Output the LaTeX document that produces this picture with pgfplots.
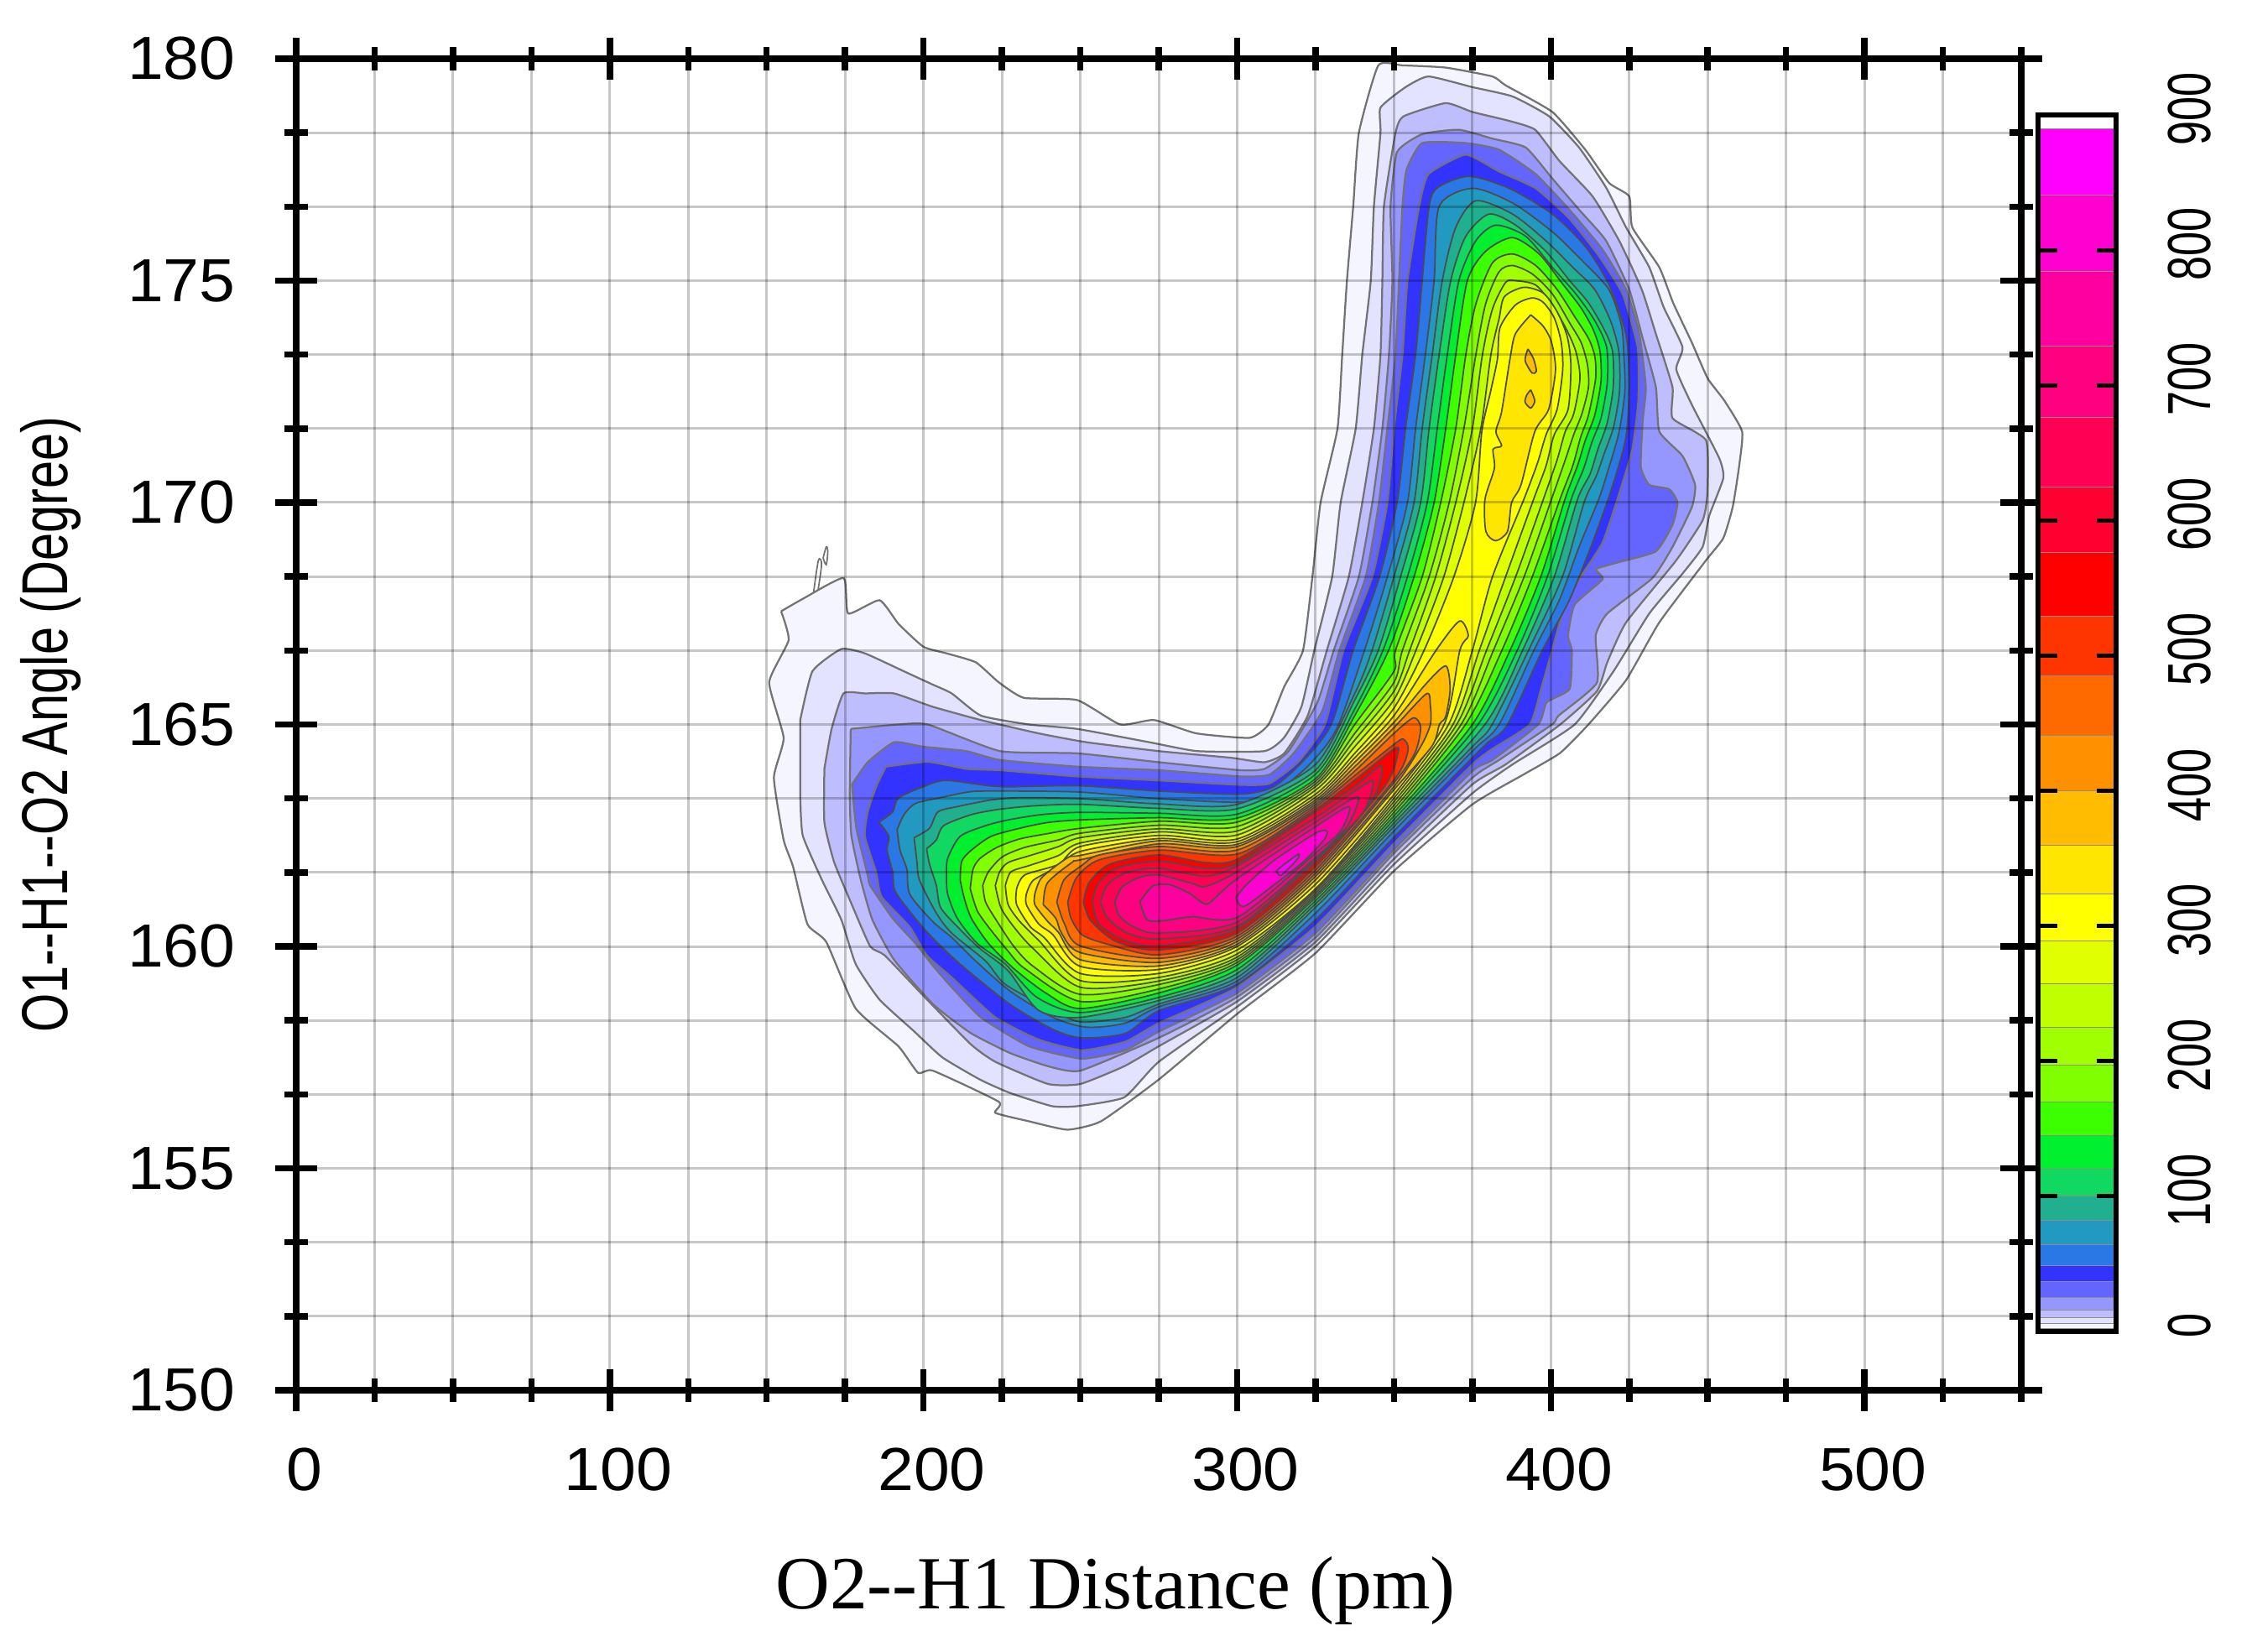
\documentclass[border=0pt]{standalone}
\usepackage{fontspec}
\setmainfont{Liberation Serif}
\newfontfamily\hel{Liberation Sans}
\usepackage{pgfplots}
\pgfplotsset{compat=1.18}
\definecolor{c1}{HTML}{F5F5FF}\definecolor{c2}{HTML}{E3E3FF}\definecolor{c3}{HTML}{BEBEFF}
\definecolor{c4}{HTML}{9696FF}\definecolor{c5}{HTML}{6464FF}\definecolor{c6}{HTML}{3333FF}
\definecolor{c7}{HTML}{2A78E6}\definecolor{c8}{HTML}{2299C0}\definecolor{c9}{HTML}{20B090}
\definecolor{c10}{HTML}{10D860}\definecolor{c11}{HTML}{00F030}\definecolor{c12}{HTML}{3CFF00}
\definecolor{c13}{HTML}{80FF00}\definecolor{c14}{HTML}{A0FF00}\definecolor{c15}{HTML}{C0FF00}
\definecolor{c16}{HTML}{E0FF00}\definecolor{c17}{HTML}{FFFF00}\definecolor{c18}{HTML}{FFE600}
\definecolor{c19}{HTML}{FFBC00}\definecolor{c20}{HTML}{FF9000}\definecolor{c21}{HTML}{FF6A00}
\definecolor{c22}{HTML}{FF3500}\definecolor{c23}{HTML}{FF0000}\definecolor{c24}{HTML}{FF0030}
\definecolor{c25}{HTML}{FF0055}\definecolor{c26}{HTML}{FF0080}\definecolor{c27}{HTML}{FF00A0}
\definecolor{c28}{HTML}{FF00D0}\definecolor{c29}{HTML}{FF00FF}
\pgfplotsset{
  pale/.style={fill=#1,draw=black!55,line width=.45pt,smooth,tension=.3},
  lev/.style={fill=#1,draw=black!70,line width=.35pt,smooth,tension=.45},
}
\newcommand{\band}[3]{\addplot[fill=#3,draw=black!45,line width=.2pt] coordinates {(0,#1)(1,#1)(1,#2)(0,#2)};}
\begin{document}
\begin{tikzpicture}
\path[use as bounding box] (-70.6pt,-62.2pt) rectangle (466.2pt,331.4pt);
\begin{axis}[
    at={(0pt,0pt)},anchor=south west,scale only axis,
    width=411.2pt,height=317.4pt,
    xmin=0,xmax=550,ymin=150,ymax=180,
    xtick={0,100,200,300,400,500},
    minor xtick={25,50,75,125,150,175,225,250,275,325,350,375,425,450,475,525,550},
    ytick={150,155,160,165,170,175,180},
    minor ytick={151.667,153.333,156.667,158.333,161.667,163.333,166.667,168.333,171.667,173.333,176.667,178.333},
    grid=both,
    grid style={draw=black,opacity=.22,line width=.6pt},
    minor grid style={draw=black,opacity=.22,line width=.6pt},
    axis on top,
    axis line style={line width=1.5pt},
    tick align=center,
    major tick length=10pt,minor tick length=5.5pt,
    major tick style={black,line width=1.5pt},
    minor tick style={black,line width=1.5pt},
    /pgf/number format/assume math mode=true,
    tick label style={font=\hel\fontsize{14.5}{16}\selectfont},
    xticklabel={\scalebox{1.06}[1]{\pgfmathprintnumber{\tick}}},
    yticklabel={\scalebox{1.06}[1]{\pgfmathprintnumber{\tick}}},
    xticklabel style={yshift=-5.3pt,xshift=2pt},
    yticklabel style={xshift=-6pt},
    xlabel={O2{-}{-}H1 Distance (pm)},
    xlabel style={font=\fontsize{17.9}{20}\selectfont,at={(axis description cs:0.475,0)},anchor=base,yshift=-52pt},
    ylabel={\scalebox{.768}[1]{O1{-}{-}H1{-}{-}O2 Angle (Degree)}},
    ylabel style={font=\hel\fontsize{15.5}{18}\selectfont,at={(axis description cs:0,0.5)},anchor=center,yshift=58.6pt},
]
% contour levels, outermost first
\addplot[fill=white,draw=black!55,line width=.35pt,smooth] coordinates {(165,168)(166.5,168.7)(167.5,168.6)(166,167.9)(165,168)};
\addplot[fill=white,draw=black!55,line width=.35pt,smooth] coordinates {(168,168.75)(169,169)(169.5,168.9)(169,168.6)(168,168.75)};
\addplot[pale=c1] coordinates {
 (154.6,167.55)(161.5,167.83)(174.5,168.3)(176,167.5)(186,167.8)(192,167.27)(200,166.75)(207.5,166.6)(216.7,166.4)(224,165.95)(232,165.6)(249,165.55)(262.7,165)(273.5,165.1)(287,164.8)(304,164.7)(310,165)(315,165.85)(321,166.67)(324,168.33)(326.6,170)(332,171.67)(333.5,173.33)(335,175)(337,176.67)(338.8,178.33)(345,179.85)(352.7,179.85)(366.5,179.8)(381.4,179.6)(385.6,179.4)(400.5,178.8)(411,177.95)(418.6,177.2)(425,176.9)(426,176.2)(434.6,175.3)(439,174.5)(445,173.6)(450,172.8)(455.3,172.3)(461,171.6)(460,170.8)(458,169.9)(455,169.2)(449.5,168.7)(434.6,167.3)(424,166)(412,165)(403,164.36)(392,163.9)(375,163.2)(350,161.7)(325,159.85)(300,158.48)(275,157)(256.6,156.06)(245.9,155.87)(233.6,156.06)(222.9,156.25)(224,156.5)(203,157.2)(198.3,157.15)(192,157.75)(178.4,158.6)(169,160.1)(163,160.5)(158.4,161.8)(155.4,162.4)(152.3,163.8)(155.4,164.7)(150.8,165.95)(157,166.9)(154.6,167.55)};
\addplot[pale=c2] coordinates {
 (160.7,165.1)(164.6,166.2)(173.8,166.7)(181.4,166.6)(193.7,166.2)(202.9,165.9)(209,165.7)(218.3,165.2)(233.6,165)(249,164.9)(272,164.6)(287.3,164.4)(308.7,164.4)(314.9,164.7)(320.5,165.4)(324.6,166.67)(330.3,168.33)(333,170)(337.8,171.67)(339.9,173.33)(342.6,175)(343.6,176.67)(345.7,178.33)(345.7,178.9)(353.7,179.36)(361,179.6)(375,179.36)(387.8,179.15)(399.5,178.7)(409,178)(417.6,177.1)(424,176.2)(431.4,175.3)(436,174.4)(442,173.5)(440,173)(445,172.2)(453.7,171)(455,170.55)(450.5,169.7)(448.4,169)(442,168.4)(431.4,167.5)(420,166.2)(407.6,165)(387.8,164.1)(375,163.45)(350,161.85)(325,160)(300,158.64)(275,157.4)(264,156.6)(249,156.4)(241,156.4)(227.5,156.7)(218,157)(206,157.5)(196.8,158.1)(186,158.8)(178.4,159.6)(173.8,160.6)(167.6,161.5)(161.5,162.5)(160.7,163.4)(160.7,164.3)(160.7,165.1)};
\addplot[pale=c3] coordinates {
 (168.4,164)(170.7,164.9)(174.5,165.7)(181.4,165.7)(190.6,165.7)(202.9,165.4)(218.3,165.1)(236.7,164.8)(252,164.6)(275,164.4)(298,164.25)(308.7,164.15)(315,164.35)(322.5,165.2)(328.6,166.67)(335.6,168.33)(339.9,170)(343.6,171.67)(345.7,173.33)(346.3,175)(346.8,176.67)(350.5,178.33)(353,178.7)(366.5,179)(375,178.8)(386.7,178.6)(395,178.4)(402.7,177.7)(413.3,176.9)(421.8,175.9)(429,174.8)(433.5,173.8)(438.8,172.6)(438.8,171.9)(449.5,171.4)(449.9,170.2)(448.4,169.6)(440,168.7)(424,167.3)(418,166.4)(414.7,165.75)(403,165)(385.6,164.1)(375,163.65)(350,161.97)(325,160.1)(300,158.76)(275,157.75)(264,157.3)(250,156.9)(239.7,156.9)(222.9,157.4)(215,157.8)(199.8,158.9)(187.6,159.8)(183,160)(176.8,161)(171.5,161.9)(168.4,162.8)(168.4,164)};
\addplot[pale=c4] coordinates {
 (176.8,164.9)(192,165)(201.4,165)(224.4,164.4)(249,164.35)(275,164.15)(301,163.97)(308.7,164)(316.4,164.4)(325.6,165.5)(330.8,166.67)(338.8,168.33)(343.1,170)(346.3,171.67)(348.4,173.33)(349.5,175)(348.9,176.67)(351,177.9)(359,178.3)(370.7,178.4)(381.4,178.2)(392,178)(400.5,177.3)(409,176.6)(417.6,175.9)(425,174.8)(429.3,173.7)(433.5,172.6)(434.6,171.6)(442,171.05)(446,170.4)(445,169.9)(438.8,169)(432.4,168.3)(418,167.5)(414.3,167)(414.7,165.94)(402.5,165.2)(400.4,165)(383.5,164.2)(375,163.8)(350,162.1)(325,160.2)(300,158.86)(275,157.94)(250,157.2)(239.7,157.3)(227.5,157.6)(215,158.05)(203,158.7)(190.6,159.7)(183.7,160.6)(180,161.5)(177,162.5)(176.5,163.4)(176.8,164.9)};
\addplot[pale=c5] coordinates {
 (177.2,163.65)(182.2,164.15)(190.6,164.6)(199.8,164.5)(213.7,164.4)(224.4,164.2)(249,164.05)(275,163.97)(301,163.83)(310.3,163.87)(318,164.35)(327.1,165.3)(332.6,166.67)(341,168.33)(345.2,170)(347.9,171.67)(350.5,173.33)(351.6,175)(352.7,176.67)(354,177.5)(359,178.1)(372.9,178.1)(383.5,177.95)(395.2,177.4)(405.9,176.6)(416.5,175.7)(424,174.8)(428.2,173.8)(430.3,172.6)(429.3,171.85)(428.7,170.8)(431.4,170.4)(437.8,170.3)(440.4,170)(438.8,169.5)(433.5,168.9)(421.3,168.65)(414.4,168.5)(416.5,168.27)(407.6,167.7)(405.5,167)(406.7,166.67)(406,165.8)(398.7,165.5)(396,165)(381.4,164.2)(375,163.95)(350,162.18)(325,160.3)(300,158.95)(275,158.08)(264.3,157.66)(250.5,157.47)(233.6,157.75)(218.3,158.4)(209,159.08)(202.8,159.58)(197.4,160.07)(190.2,160.63)(183,161.37)(182.2,161.61)(178.6,162.66)(177.2,163.65)};
\addplot[pale=c6] coordinates {
 (188,164.05)(201.4,164.16)(213.7,164)(224.4,163.97)(249,163.83)(275,163.74)(301,163.64)(310.3,163.67)(319.5,164.16)(328,165)(333.9,166.67)(343.1,168.33)(347.9,170)(350,171.67)(352.7,173.33)(354.3,175)(358,176.67)(361,177.4)(372.9,177.84)(383.5,177.46)(395.2,177.08)(405.9,176.4)(415.4,175.55)(422.9,174.7)(427.7,173.5)(427.9,172.3)(426,171.2)(421.8,170.2)(416.5,169.1)(409,168.27)(404.5,167.7)(400.4,166.67)(396.9,165.8)(393.3,165)(381.4,164.45)(375,164.1)(350,162.32)(325,160.45)(300,159.08)(275,158.27)(264.3,157.85)(250.5,157.66)(236.7,157.9)(222.9,158.4)(209,159.3)(201,159.8)(195.6,160.44)(186.6,161.12)(184.9,161.67)(181.3,162.48)(182.2,163.03)(184.9,163.6)(188,164.05)};
\addplot[lev=c7] coordinates {
 (185.8,162.8)(190.2,163.03)(192,163.34)(200,163.6)(207.3,163.74)(224.4,163.6)(249,163.62)(275,163.5)(301,163.43)(311.6,163.6)(320.8,164.16)(330,165)(337,166.67)(345.4,168.33)(351,170)(353.7,171.67)(356.9,173.33)(359,175)(361.2,176.67)(364,177.1)(373.9,177.35)(386.7,177.08)(400.5,176.5)(411,175.77)(418.6,174.9)(423.9,173.8)(425,172.7)(424,171.5)(419.8,170.4)(413.3,169.1)(405.9,167.8)(397.3,166.67)(386.2,165)(380,164.6)(375,164.25)(350,162.46)(325,160.6)(300,159.15)(275,158.55)(264.3,158.04)(250.5,157.94)(241.3,158.13)(227.5,158.7)(211.7,159.6)(202.8,160.2)(197.4,160.63)(191,161.24)(190.2,161.67)(188.4,162.17)(189,162.48)(185.8,162.8)};
\addplot[lev=c8] coordinates {
 (191.6,162.63)(193.8,162.97)(197.4,163.22)(204.6,163.34)(213.5,163.47)(220,163.5)(249,163.48)(275,163.33)(301,163.25)(311.6,163.45)(322.5,164.06)(331.7,164.9)(340.6,166.67)(347.9,168.33)(354.3,170)(356.9,171.67)(360,173.33)(362.8,175)(364.4,176.67)(375,177.08)(387.8,176.75)(400.5,176.1)(410,175.45)(418.5,174.8)(422.5,174)(423.3,173.3)(423.6,172.5)(421.8,171.6)(419,170.9)(415.4,170.1)(409,169)(402.7,167.8)(394.6,166.67)(383.5,165)(375,164.4)(350,162.6)(325,160.75)(300,159.22)(275,158.64)(264.3,158.27)(252,158.18)(241.3,158.4)(227.5,159)(216.2,159.7)(209,160.2)(202.8,160.57)(195.6,161.18)(194.7,161.74)(192.5,162.17)(191.6,162.63)};
\addplot[lev=c9] coordinates {
 (197,162.45)(201.9,162.66)(204.6,163.03)(210.8,163.15)(221.6,163.3)(230.6,163.35)(250,163.33)(275,163.21)(300,163.2)(325,164.1)(337.5,165.7)(343,166.67)(350,168.33)(356.4,170)(359,171.67)(362.2,173.33)(365.4,175)(369.7,176.2)(376.1,176.8)(387.8,176.5)(398.4,175.9)(407,175.3)(414,174.8)(419,174.1)(421.7,173.4)(421.9,172.5)(420,171.7)(417,171.1)(414.5,170.6)(410.6,170)(403.7,168.33)(392.9,166.67)(381.3,165)(375,164.5)(350,162.7)(325,160.88)(300,159.3)(275,158.7)(264.3,158.4)(250,158.3)(240,158.6)(226,159.15)(219.8,159.67)(209,160.3)(204.1,160.75)(198.7,161.5)(197.9,161.92)(197,162.45)};
\addplot[lev=c10] coordinates {
 (201,162.2)(204.1,162.4)(206.4,162.72)(215.3,162.97)(224.3,163.09)(235.9,163.17)(250,163.2)(275,163.11)(300,163.1)(325,163.97)(337.5,165.55)(345,166.67)(352.1,168.33)(358.5,170)(361.2,171.67)(364.4,173.33)(368.1,175)(372.9,176)(380.3,176.5)(388.8,176.25)(398.4,175.66)(406,175)(412,174.5)(417,173.9)(419.7,173.4)(419.9,172.6)(418,171.8)(415,171.2)(412.5,170.64)(408.5,170.07)(401.1,168.33)(391,166.67)(379,165)(350,162.78)(325,160.96)(300,159.39)(275,158.78)(250,158.4)(236.7,158.56)(227,159.45)(218,159.95)(211.7,160.38)(205.5,160.87)(204.1,161.37)(201.9,161.86)(201,162.2)};
\addplot[lev=c11] coordinates {
 (207.3,161.6)(207.7,161.98)(211.7,162.48)(219.8,162.72)(227,162.85)(237.7,162.97)(250,163.02)(275,163)(300,162.98)(325,163.88)(337.5,165.35)(346.5,166.67)(354.3,168.33)(360.6,170)(363.8,171.67)(367,173.33)(370.7,175)(376.1,175.9)(382.5,176.25)(392,176)(400.5,175.3)(408,174.7)(414,174.1)(417.8,173.5)(418,172.7)(416,171.9)(413,171.34)(410.5,170.77)(406.5,170.07)(398.9,168.33)(389.3,166.67)(376.8,165)(350,162.86)(325,161.03)(300,159.48)(275,158.85)(250,158.51)(236.2,158.85)(226.1,159.6)(217.1,160.07)(210.8,160.63)(207.7,161.18)(207.3,161.6)};
\addplot[lev=c12] coordinates {
 (211.7,161.49)(212.2,161.92)(215.3,162.17)(221.6,162.48)(230.6,162.66)(239.5,162.79)(250,162.85)(275,162.9)(300,162.89)(325,163.78)(337.5,165.2)(348.3,166.67)(356.4,168.33)(362.8,170)(366.5,171.67)(369.7,173.33)(373.4,175)(379.2,175.66)(387.8,175.97)(396.3,175.6)(403.5,174.95)(409.5,174.4)(413.5,173.9)(415.7,173.4)(416,172.73)(414,171.97)(411,171.4)(408.5,170.83)(404.5,170.07)(396.8,168.33)(387,166.67)(375,165)(350,162.94)(325,161.1)(300,159.58)(275,158.95)(250,158.6)(239,158.95)(228.8,159.5)(220.7,160.07)(215.3,160.63)(213.1,161.06)(211.7,161.49)};
\addplot[lev=c13] coordinates {
 (214.9,161.3)(215.8,161.74)(218,161.98)(223.4,162.23)(230.6,162.42)(239.5,162.54)(250,162.66)(275,162.82)(300,162.8)(325,163.72)(337.5,165)(350,166.2)(350.5,166.67)(359,168.33)(364.9,170)(369.7,171.67)(372.9,173.33)(376.1,174.47)(381.4,175.4)(387.8,175.6)(395.2,175.34)(402,174.8)(407.5,174.2)(412,173.7)(414,173.3)(414.3,172.8)(412,171.97)(409.5,171.47)(407,170.83)(402.9,170.07)(394.1,168.33)(384.4,166.67)(372.8,165)(350,163.02)(325,161.15)(300,159.64)(275,159.04)(250,158.76)(232.3,159.5)(227,159.89)(220.7,160.44)(217.1,160.81)(214.9,161.3)};
\addplot[lev=c14] coordinates {
 (218.9,161.37)(220.7,161.68)(225.2,162.02)(232.3,162.23)(243.1,162.4)(250,162.55)(275,162.73)(300,162.7)(325,163.66)(337.5,164.8)(350,165.95)(352.7,166.67)(361.2,168.33)(367.6,170)(372.3,171.67)(376.1,173.33)(379.2,174.47)(383.5,175.2)(387.8,175.34)(394.1,175.15)(400.5,174.7)(406,174.05)(409.7,173.6)(411.7,173.1)(412,172.6)(409.9,172)(407.3,171.53)(404.6,170.96)(400.2,170.07)(391.5,168.33)(381.7,166.67)(371.4,165)(350,163.1)(325,161.2)(300,159.7)(275,159.14)(250,158.92)(235,159.55)(228.8,160)(223.4,160.57)(219.8,161)(218.9,161.37)};
\addplot[lev=c15] coordinates {
 (222.9,161.37)(224.3,161.68)(227,161.89)(234.1,162.05)(243.1,162.25)(250,162.45)(275,162.65)(300,162.6)(325,163.6)(337.5,164.65)(350,165.75)(355,166.67)(363.3,168.33)(369.7,170)(375,171.67)(378.2,173.33)(381.4,174.36)(385.6,174.96)(388.8,175)(395.2,174.9)(400.5,174.45)(405,173.9)(408,173.4)(409.3,172.8)(407.3,172)(404.6,171.6)(402,170.96)(397.6,170.07)(388.8,168.33)(379.5,166.67)(370,165)(350,163.18)(325,161.25)(300,159.76)(275,159.22)(250,159.08)(235,159.95)(228.8,160.44)(224.7,160.87)(222.9,161.37)};
\addplot[lev=c16] coordinates {
 (226.1,161.37)(227.9,161.68)(234.1,161.83)(243.1,162.05)(250,162.33)(275,162.58)(300,162.51)(325,163.52)(337.5,164.5)(350,165.56)(357,166.67)(365.9,168.33)(372.3,170)(377.7,171.67)(380.9,173.33)(383.5,174.14)(385.2,174.64)(391.4,174.85)(397.6,174.72)(402,174.3)(405.2,173.75)(406.4,173.1)(405.5,172.1)(401.1,171.53)(398.5,170.83)(394.5,170.07)(385.6,168.33)(377.2,166.67)(368.8,165)(350,163.26)(325,161.28)(300,159.83)(275,159.3)(250,159.23)(236.8,160.13)(230.6,160.57)(227,160.94)(226.1,161.37)};
\addplot[lev=c17] coordinates {
 (229.7,161.3)(232.3,161.61)(243.1,161.85)(250,162.25)(275,162.5)(300,162.42)(325,163.43)(337.5,164.35)(350,165.37)(359.6,166.67)(369.1,168.33)(376,170)(378,171.6)(380.8,172.5)(383,173.24)(383.8,173.94)(388.7,174.45)(394,174.61)(397.6,174.51)(401.1,174.16)(403.3,173.62)(403.8,173)(402,172.1)(398.5,171.53)(395.8,170.9)(391.4,170.07)(381.4,168.33)(375,166.67)(367.4,165)(350,163.34)(325,161.3)(300,159.92)(275,159.39)(250,159.39)(238.6,160.19)(234.1,160.44)(229.7,160.94)(229.7,161.3)};
\addplot[lev=c18] coordinates {
 (393.6,174.23)(397.6,173.97)(400.2,173.62)(401.5,172.99)(399.3,172.1)(394.9,171.6)(390.5,170.4)(387.5,170)(386.2,169.35)(382.4,169.14)(379.3,169.35)(379,170.07)(382,170.77)(381.6,171.2)(384.3,171.28)(382.5,171.6)(384.3,172.04)(387,173.24)(388.7,173.8)(393.6,174.23)};
\addplot[lev=c19] coordinates {(392.7,173.46)(394.5,173.24)(395.4,172.96)(394,172.92)(391.8,173.2)(392.7,173.46)};
\addplot[lev=c19] coordinates {(393.6,172.54)(394.9,172.29)(393.6,172.13)(391.8,172.26)(392.3,172.42)(393.6,172.54)};
\addplot[lev=c18] coordinates {
 (232.8,161.18)(235,161.49)(243,161.8)(250,162.14)(275,162.43)(300,162.36)(325,163.36)(337.5,164.25)(350,165.2)(363.4,166.67)(370.9,167.33)(373.7,167)(371,166.67)(366,165)(350,163.42)(325,161.4)(300,160)(275,159.48)(250,159.55)(241.3,160.26)(236.8,160.5)(232.8,160.94)(232.8,161.18)};
\addplot[lev=c19] coordinates {
 (235.5,161.18)(237.7,161.55)(246,162)(250,162.05)(275,162.38)(300,162.3)(325,163.3)(337.5,164.15)(350,165.05)(360,165.9)(366.5,166.32)(367.9,165.8)(366.5,165.18)(364.5,165)(362,164.5)(350,163.53)(325,161.5)(300,160.05)(275,159.56)(250,159.7)(243,160.32)(239.5,160.57)(235.5,160.94)(235.5,161.18)};
\addplot[lev=c20] coordinates {
 (238.2,160.94)(239.5,161.43)(247.5,161.9)(250,161.95)(275,162.31)(300,162.25)(325,163.25)(337.5,164.05)(350,164.93)(360.3,165.69)(361.6,165.43)(361.6,165)(358.5,164.5)(350,163.6)(325,161.58)(300,160.11)(275,159.64)(250,159.86)(244,160.3)(242.2,160.63)(238.2,160.94)};
\addplot[lev=c21] coordinates {
 (242.5,161)(244.8,161.5)(250.6,161.83)(256,162.06)(275,162.25)(300,162.17)(325,163.2)(337.5,163.95)(350,164.8)(356.25,165.15)(358.5,164.93)(356.7,164.36)(350,163.69)(325,161.65)(300,160.17)(275,159.73)(250,160.01)(245,160.5)(242.5,161)};
\addplot[lev=c22] coordinates {
 (246,161)(248.8,161.55)(256,161.95)(275,162.17)(300.5,162.09)(325,163.15)(337.5,163.85)(350,164.55)(353,164.67)(354.5,164.42)(350,163.75)(325,161.72)(300,160.23)(275,159.81)(258.7,160.05)(250.6,160.26)(247,160.64)(246,161)};
\addplot[lev=c23] coordinates {
 (251,161)(252.9,161.45)(259.6,161.86)(275,162.06)(290,161.89)(300.5,161.98)(325,163.09)(337.5,163.75)(350,164.45)(351.3,164.36)(347,163.6)(325,161.8)(300,160.3)(275,159.92)(261.4,160.11)(253.3,160.58)(251,161)};
\addplot[lev=c24] coordinates {
 (253.8,161)(255.5,161.39)(261.4,161.76)(275,161.92)(290,161.76)(300.5,161.89)(325,163.03)(337.5,163.6)(346,164.07)(343,163.3)(325,161.9)(300,160.39)(275,160.01)(264,160.14)(256,160.5)(253.8,161)};
\addplot[lev=c25] coordinates {
 (256.4,161)(258.7,161.39)(265,161.67)(275,161.76)(290,161.58)(300.5,161.83)(325,162.9)(337.5,163.5)(343.3,163.72)(340,163)(325,161.96)(300,160.45)(275,160.17)(265,160.3)(258.7,160.64)(256.4,161)};
\addplot[lev=c26] coordinates {
 (261,161)(263.2,161.33)(268.6,161.55)(275,161.61)(285.6,161.42)(290,161.35)(300.5,161.7)(325,162.8)(338.4,163.37)(335,162.7)(325,162)(300,160.55)(275,160.3)(266.8,160.45)(262.3,160.7)(261,161)};
\addplot[lev=c27] coordinates {
 (269,161.01)(273.1,161.36)(278.5,161.39)(284.7,161.2)(290.1,160.95)(294.6,161.2)(300.5,161.55)(325,162.7)(335.7,163.15)(333,162.6)(325,162.1)(300.5,160.67)(285.6,160.67)(276.7,160.58)(271.3,160.6)(269,161.01)};
\addplot[lev=c28] coordinates {
 (299.6,161.1)(303.1,161.4)(312,161.95)(325,162.55)(328.6,162.6)(327.7,162.4)(321,161.9)(312,161.4)(302.2,160.9)(299.6,161.1)};
\addplot[lev=c29] coordinates {(312.5,161.7)(315,161.85)(319.6,162.08)(319,161.95)(314,161.6)(312.5,161.7)};
\end{axis}
\begin{axis}[
    at={(415.2pt,14pt)},anchor=south west,scale only axis,
    width=18.6pt,height=290pt,
    xmin=0,xmax=1,ymin=0,ymax=900,
    xtick=\empty,
    ytick={0,100,200,300,400,500,600,700,800,900},
    axis on top,
    axis line style={line width=1.3pt},
    tick align=inside,
    major tick length=4.6pt,
    major tick style={black,line width=1pt},
    yticklabel pos=right,
    /pgf/number format/assume math mode=true,
    yticklabel={\scalebox{.72}[1]{\pgfmathprintnumber{\tick}}},
    yticklabel style={font=\hel\fontsize{14.5}{16}\selectfont,rotate=90,anchor=center,xshift=1.4pt,yshift=-17.5pt},
]
\band{2}{6}{c1}\band{6}{10}{c2}\band{10}{16}{c3}\band{16}{25}{c4}\band{25}{37}{c5}\band{37}{49}{c6}
\band{49}{64}{c7}\band{64}{82}{c8}\band{82}{100}{c9}\band{100}{120}{c10}\band{120}{145}{c11}
\band{145}{170}{c12}\band{170}{197}{c13}\band{197}{225}{c14}\band{225}{257}{c15}\band{257}{289}{c16}
\band{289}{324}{c17}\band{324}{360}{c18}\band{360}{400}{c19}\band{400}{441}{c20}\band{441}{485}{c21}
\band{485}{529}{c22}\band{529}{576}{c23}\band{576}{625}{c24}\band{625}{676}{c25}\band{676}{729}{c26}
\band{729}{784}{c27}\band{784}{841}{c28}\band{841}{890}{c29}
\end{axis}
\end{tikzpicture}
\end{document}
